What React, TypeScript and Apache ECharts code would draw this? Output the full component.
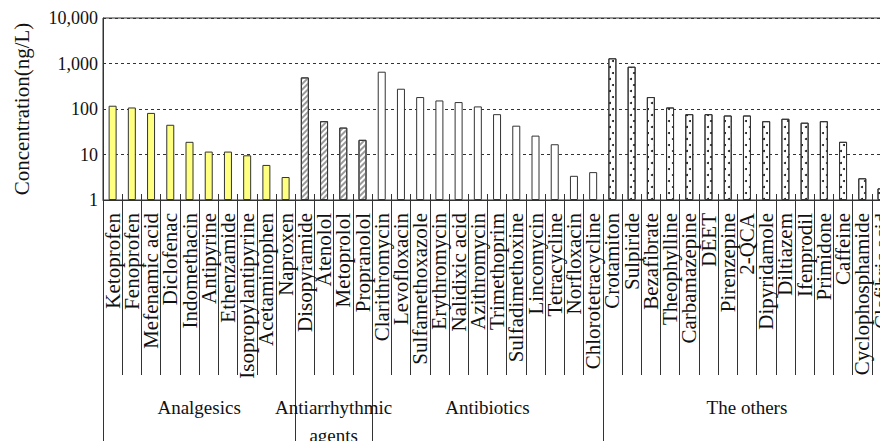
import React, { useEffect, useRef } from "react";
import * as echarts from "echarts";

const analgesics = ["Ketoprofen", "Fenoprofen", "Mefenamic acid", "Diclofenac", "Indomethacin", "Antipyrine", "Ethenzamide", "Isopropylantipyrine", "Acetaminophen", "Naproxen"];
const analgesicValues = [118, 108, 82, 45, 19, 11.6, 11.6, 9.6, 5.9, 3.2];

const antiarrhythmic = ["Disopyramide", "Atenolol", "Metoprolol", "Propranolol"];
const antiarrhythmicValues = [494, 54, 39, 21];

const antibiotics = ["Clarithromycin", "Levofloxacin", "Sulfamethoxazole", "Erythromycin", "Nalidixic acid", "Azithromycin", "Trimethoprim", "Sulfadimethoxine", "Lincomycin", "Tetracycline", "Norfloxacin", "Chlorotetracycline"];
const antibioticValues = [660, 279, 183, 154, 142, 114, 77, 43, 26, 16.8, 3.4, 4.1];

const others = ["Crotamiton", "Sulpiride", "Bezafibrate", "Theophylline", "Carbamazepine", "DEET", "Pirenzepine", "2-QCA", "Dipyridamole", "Diltiazem", "Ifenprodil", "Primidone", "Caffeine", "Cyclophosphamide", "Clofibric acid"];
const otherValues = [1300, 850, 183, 108, 77, 77, 72, 72, 54, 61, 50, 54, 19, 3.0, 1.8];

const groupLabels = ["Analgesics", "Antiarrhythmic\nagents", "Antibiotics", "The others"];
const yTicks = [1, 10, 100, 1000, 10000];

const FONT = "'Liberation Serif', 'Times New Roman', serif";
const INK = "#111";
const LINE = "#333";

const groupStyles: any[] = [
  { color: "#ffff80", borderColor: LINE, borderWidth: 1 },
  {
    color: "#ffffff",
    borderColor: LINE,
    borderWidth: 1,
    decal: {
      symbol: "rect",
      symbolSize: 1,
      color: "#9a9a9a",
      backgroundColor: "#ffffff",
      dashArrayX: [1, 0],
      dashArrayY: [1.3, 1.7],
      rotation: -Math.PI / 4,
    },
  },
  { color: "#ffffff", borderColor: LINE, borderWidth: 1 },
  {
    color: "#ffffff",
    borderColor: LINE,
    borderWidth: 1,
    decal: {
      symbol: "circle",
      symbolSize: 1,
      color: "#111111",
      backgroundColor: "#ffffff",
      dashArrayX: [[1.6, 4.4], [0, 3, 1.6, 1.4]],
      dashArrayY: [1.6, 3.2],
      rotation: 0,
    },
  },
];

export default function App() {
  const ref = useRef<HTMLDivElement>(null);

  useEffect(() => {
    if (!ref.current) return;
    const chart = echarts.init(ref.current, null, { renderer: "svg" });

    const groups = [
      { cats: analgesics, vals: analgesicValues },
      { cats: antiarrhythmic, vals: antiarrhythmicValues },
      { cats: antibiotics, vals: antibioticValues },
      { cats: others, vals: otherValues },
    ];
    const categories: string[] = [];
    const data: any[] = [];
    const boundaries: number[] = [];
    groups.forEach((g, gi) => {
      boundaries.push(categories.length);
      g.cats.forEach((c, i) => {
        categories.push(c);
        data.push({ value: g.vals[i], itemStyle: groupStyles[gi] });
      });
    });

    const hiddenAxisBase = {
      type: "category",
      data: categories,
      position: "bottom",
      axisLine: { show: false },
      axisLabel: { show: false },
      splitLine: { show: false },
    };

    chart.setOption({
      animation: false,
      backgroundColor: "#ffffff",
      grid: {
        left: 103,
        top: 18,
        right: 0.5,
        bottom: 241,
        show: true,
        borderColor: LINE,
        borderWidth: 1,
      },
      xAxis: [
        {
          type: "category",
          data: categories,
          position: "bottom",
          axisLine: { show: true, lineStyle: { color: LINE, width: 1 } },
          axisTick: { show: true, interval: 0, length: 175, lineStyle: { color: LINE, width: 1 } },
          axisLabel: {
            interval: 0,
            rotate: 90,
            margin: 13,
            fontSize: 21,
            fontFamily: FONT,
            color: INK,
          },
          splitLine: { show: false },
        },
        {
          ...hiddenAxisBase,
          axisTick: {
            show: true,
            interval: (i: number) => boundaries.indexOf(i) >= 0,
            length: 241,
            lineStyle: { color: LINE, width: 1 },
          },
        },
        {
          ...hiddenAxisBase,
          axisTick: { show: true, inside: true, interval: 0, length: 6, lineStyle: { color: LINE, width: 1 } },
        },
      ],
      yAxis: {
        type: "log",
        logBase: 10,
        min: yTicks[0],
        max: yTicks[yTicks.length - 1],
        name: "Concentration(ng/L)",
        nameLocation: "middle",
        nameGap: 71,
        nameRotate: 90,
        nameTextStyle: { fontSize: 21, fontFamily: FONT, color: INK },
        axisLine: { show: true, lineStyle: { color: LINE, width: 1 } },
        axisTick: { show: false },
        axisLabel: {
          margin: 5,
          fontSize: 18,
          fontFamily: FONT,
          color: INK,
          formatter: (v: number) => Number(v).toLocaleString("en-US"),
        },
        splitLine: { show: true, lineStyle: { color: LINE, type: [3, 3], width: 1 } },
      },
      series: [
        {
          type: "bar",
          xAxisIndex: 0,
          barWidth: 8,
          data,
        },
      ],
    });

    const px = (name: string) => chart.convertToPixel({ xAxisIndex: 0 }, name) as unknown as number;
    const graphic = groups.map((g, gi) => ({
      type: "text",
      x: (px(g.cats[0]) + px(g.cats[g.cats.length - 1])) / 2,
      y: 393,
      z: 10,
      style: {
        text: groupLabels[gi],
        fontSize: 19,
        fontFamily: FONT,
        fill: INK,
        align: "center",
        verticalAlign: "top",
        lineHeight: 28,
      },
    }));
    chart.setOption({ graphic });

    return () => chart.dispose();
  }, []);

  return (
    <div style={{ position: "fixed", left: 0, top: 0, width: 880, height: 441, overflow: "hidden", background: "#fff" }}>
      <div ref={ref} style={{ width: 892, height: 441 }} />
    </div>
  );
}
